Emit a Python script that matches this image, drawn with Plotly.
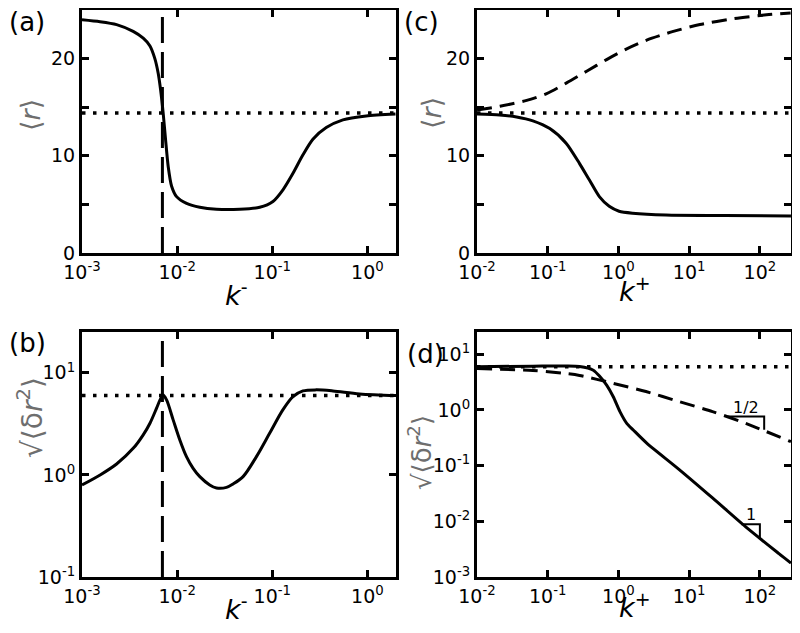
import math
import plotly.graph_objects as go

# ---------------- data ----------------
# panel (a): <r> vs k-
ka = [0.001, 0.001545, 0.00231, 0.00345, 0.00440, 0.00518, 0.00583, 0.00632, 0.00670,
      0.00713, 0.00755, 0.00805, 0.00873, 0.00986, 0.01256, 0.0173, 0.0259, 0.0455,
      0.0738, 0.1016, 0.1294, 0.165, 0.210, 0.267, 0.369, 0.552, 0.970, 1.97]
ra = [24.0, 23.8, 23.5, 22.8, 22.1, 21.3, 20.0, 18.5, 16.8,
      14.4, 11.7, 8.9, 6.9, 5.8, 5.1, 4.7, 4.5, 4.5,
      4.7, 5.3, 6.5, 8.2, 10.1, 11.7, 12.9, 13.7, 14.1, 14.3]

# panel (b): sqrt(<dr^2>) vs k-
kb = [0.001, 0.00155, 0.00231, 0.00347, 0.00440, 0.00518, 0.00608, 0.00661, 0.00713,
      0.00774, 0.00908, 0.01067, 0.01253, 0.01472, 0.0173, 0.0220, 0.0259, 0.0330,
      0.0387, 0.0493, 0.0681, 0.0940, 0.129, 0.165, 0.210, 0.290, 0.434, 0.826, 2.0]
sb = [0.798, 1.0, 1.28, 1.83, 2.47, 3.21, 4.51, 5.43, 6.08,
      5.43, 3.46, 2.20, 1.51, 1.16, 0.962, 0.798, 0.745, 0.755,
      0.815, 0.962, 1.51, 2.57, 4.34, 5.85, 6.65, 6.81, 6.65, 6.22, 6.0]

# panel (c): <r> vs k+
kc_solid = [0.01, 0.0209, 0.0363, 0.0617, 0.107, 0.182, 0.282, 0.389, 0.537, 0.741,
            1.02, 1.58, 4.68, 31.6, 275]
rc_solid = [14.3, 14.2, 14.0, 13.6, 12.8, 11.3, 9.2, 7.5, 5.8, 4.8,
            4.3, 4.1, 3.9, 3.85, 3.8]
kc_dash = [0.01, 0.0211, 0.0504, 0.0966, 0.185, 0.355, 0.681, 1.31, 2.51, 5.97,
           14.2, 42.1, 124, 272]
rc_dash = [14.7, 15.1, 15.7, 16.4, 17.5, 18.7, 19.9, 21.0, 21.9, 22.8,
           23.5, 24.1, 24.5, 24.7]

# panel (d): sqrt(<dr^2>) vs k+
kd_solid = [0.01, 0.0617, 0.182, 0.282, 0.441, 0.550, 0.681, 0.845, 1.05, 1.31,
            1.62, 2.51, 7.24, 21.4, 63.1, 186, 275]
sd_solid = [6.0, 6.11, 6.17, 6.03, 5.18, 3.94, 2.79, 1.73, 0.933, 0.575,
            0.437, 0.254, 0.0851, 0.0263, 0.00794, 0.00263, 0.00178]
kd_dash = [0.01, 0.0617, 0.182, 0.282, 0.832, 2.45, 7.24, 21.4, 63.1, 275]
sd_dash = [5.55, 5.13, 4.52, 4.17, 3.02, 2.14, 1.41, 0.933, 0.575, 0.269]

# reference lines
k_star = 0.007          # dashed vertical line in (a), (b)
r_ref = 14.4            # dotted line in (a), (c)
s_ref = 6.0             # dotted line in (b), (d)

# slope triangles in (d)
tri_half_k = [34.7, 115, 115]
tri_half_s = [0.759, 0.759, 0.44]
tri_one_k = [54.6, 100, 100]
tri_one_s = [0.00883, 0.00883, 0.00479]

# tick labels
tick_km = [1e-3, 1e-2, 1e-1, 1]
tick_km_txt = ["10<sup>-3</sup>", "10<sup>-2</sup>", "10<sup>-1</sup>", "10<sup>0</sup>"]
tick_kp = [1e-2, 1e-1, 1, 10, 100]
tick_kp_txt = ["10<sup>-2</sup>", "10<sup>-1</sup>", "10<sup>0</sup>", "10<sup>1</sup>", "10<sup>2</sup>"]
tick_r = [0, 10, 20]
tick_r_txt = ["0", "10", "20"]
tick_sb = [0.1, 1, 10]
tick_sb_txt = ["10<sup>-1</sup>", "10<sup>0</sup>", "10<sup>1</sup>"]
tick_sd = [1e-3, 1e-2, 1e-1, 1, 10]
tick_sd_txt = ["10<sup>-3</sup>", "10<sup>-2</sup>", "10<sup>-1</sup>", "10<sup>0</sup>", "10<sup>1</sup>"]

# ---------------- figure ----------------
W, H = 800, 633
OFF = 8   # page body margin
FONT = "DejaVu Sans"
SOLID = dict(color="black", width=3)
DASHC = dict(color="black", width=3, dash="15px,8px")
DOT = dict(color="black", width=3.5, dash="3.5px,7.5px")
VDASH = dict(color="black", width=3, dash="26px,9px")

fig = go.Figure()

def add(x, y, line, xa, ya, spline=True, smooth=0.7):
    fig.add_trace(go.Scatter(x=x, y=y, mode="lines",
                             line=dict(line, shape="spline" if spline else "linear", smoothing=smooth),
                             xaxis=xa, yaxis=ya, showlegend=False, hoverinfo="skip"))

# (a)
add([1e-3, 2.0], [r_ref, r_ref], DOT, "x", "y", False)
add([k_star, k_star], [0, 25], VDASH, "x", "y", False)
add(ka, ra, SOLID, "x", "y")
# (b)
add([1e-3, 2.0], [s_ref, s_ref], DOT, "x2", "y2", False)
add([k_star, k_star], [0.1, 25], VDASH, "x2", "y2", False)
add(kb, sb, SOLID, "x2", "y2", True, 0.9)
# (c)
add([1e-2, 275], [r_ref, r_ref], DOT, "x3", "y3", False)
add(kc_dash, rc_dash, DASHC, "x3", "y3")
add(kc_solid, rc_solid, SOLID, "x3", "y3")
# (d)
add([1e-2, 275], [s_ref, s_ref], DOT, "x4", "y4", False)
add(kd_dash, sd_dash, DASHC, "x4", "y4")
add(kd_solid, sd_solid, SOLID, "x4", "y4")
add(tri_half_k, tri_half_s, dict(color="black", width=2), "x4", "y4", False)
add(tri_one_k, tri_one_s, dict(color="black", width=2), "x4", "y4", False)

def px2x(px):
    return (px - OFF) / W

def py2y(py):
    return 1 - (py - OFF) / H

dom_left = [px2x(82), px2x(396)]
dom_right = [px2x(477), px2x(791)]
dom_top = [py2y(253), py2y(10)]
dom_bot = [py2y(577), py2y(332)]

common = dict(showline=True, linewidth=3, linecolor="black", mirror="ticks",
              ticks="inside", ticklen=7, tickwidth=2.5, tickcolor="black",
              showgrid=False, zeroline=False, automargin=False,
              tickfont=dict(family=FONT, size=19, color="black"))

fig.update_layout(
    template="none",
    width=W, height=H, margin=dict(l=0, r=0, t=0, b=0, pad=0), autosize=False,
    paper_bgcolor="white", plot_bgcolor="white", showlegend=False,
    xaxis=dict(common, type="log", range=[-3, 0.3], domain=dom_left, anchor="y",
               tickvals=tick_km, ticktext=tick_km_txt),
    yaxis=dict(common, range=[0, 25], domain=dom_top, anchor="x",
               tickvals=tick_r, ticktext=tick_r_txt,
               minor=dict(dtick=5, ticks="inside", ticklen=7, tickwidth=2.5, tickcolor="black", showgrid=False)),
    xaxis2=dict(common, type="log", range=[-3, 0.3], domain=dom_left, anchor="y2",
                tickvals=tick_km, ticktext=tick_km_txt),
    yaxis2=dict(common, type="log", range=[-1, 1.4], domain=dom_bot, anchor="x2",
                tickvals=tick_sb, ticktext=tick_sb_txt),
    xaxis3=dict(common, type="log", range=[-2, 2.44], domain=dom_right, anchor="y3",
                tickvals=tick_kp, ticktext=tick_kp_txt),
    yaxis3=dict(common, range=[0, 25], domain=dom_top, anchor="x3",
                tickvals=tick_r, ticktext=tick_r_txt,
                minor=dict(dtick=5, ticks="inside", ticklen=7, tickwidth=2.5, tickcolor="black", showgrid=False)),
    xaxis4=dict(common, type="log", range=[-2, 2.44], domain=dom_right, anchor="y4",
                tickvals=tick_kp, ticktext=tick_kp_txt),
    yaxis4=dict(common, type="log", range=[-3, 1.4], domain=dom_bot, anchor="x4",
                tickvals=tick_sd, ticktext=tick_sd_txt),
)

ann = []
def note(text, px, py, size, color="black", angle=0):
    ann.append(dict(text=text, x=px2x(px), y=py2y(py), xref="paper", yref="paper",
                    showarrow=False, textangle=angle, xanchor="center", yanchor="middle",
                    font=dict(family=FONT, size=size, color=color)))

# panel labels
note("(a)", 27, 22, 26)
note("(c)", 422, 22, 26)
note("(b)", 27, 343, 26)
note("(d)", 425, 354, 26)
# x titles
note("<i>k</i><sup>-</sup>", 236, 293, 27)
note("<i>k</i><sup>+</sup>", 634, 290, 27)
note("<i>k</i><sup>-</sup>", 236, 607, 27)
note("<i>k</i><sup>+</sup>", 634, 605, 27)
# y titles
GRAY = "#6e6e6e"
note("⟨<i>r</i>⟩", 31, 115, 27, GRAY, -90)
note("⟨<i>r</i>⟩", 431, 113, 27, GRAY, -90)
note("√⟨δ<i>r</i><sup>2</sup>⟩", 30, 418, 28, GRAY, -90)
note("√⟨δ<i>r</i><sup>2</sup>⟩", 420, 453, 26, GRAY, -90)

# slope labels (annotation coords on log axes are log10 values)
ann.append(dict(text="1/2", x=math.log10(math.sqrt(tri_half_k[0] * tri_half_k[1])),
                y=math.log10(tri_half_s[0]), xref="x4", yref="y4", showarrow=False,
                yanchor="bottom", yshift=-2, font=dict(family=FONT, size=16, color="black")))
ann.append(dict(text="1", x=math.log10(math.sqrt(tri_one_k[0] * tri_one_k[1])),
                y=math.log10(tri_one_s[0]), xref="x4", yref="y4", showarrow=False,
                yanchor="bottom", yshift=-2, font=dict(family=FONT, size=16, color="black")))
fig.update_layout(annotations=ann)

fig.write_html("out.html")
